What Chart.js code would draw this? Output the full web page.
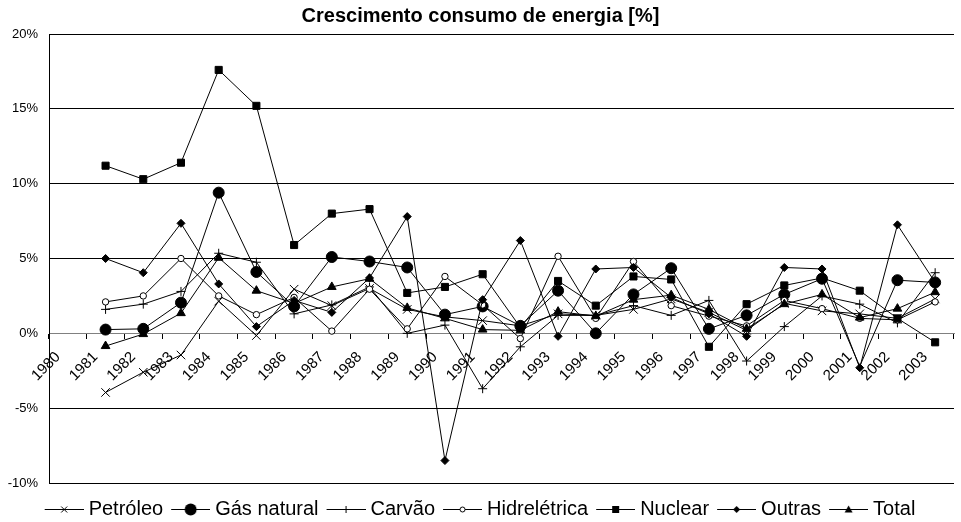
<!DOCTYPE html>
<html>
<head>
<meta charset="utf-8">
<script src="https://cdn.jsdelivr.net/npm/chart.js@4"></script>
<style>
  body { margin: 0; background: #fff; }
  #wrap { width: 961px; height: 522px; }
</style>
</head>
<body>
<div id="wrap"><canvas id="energiaChart" width="961" height="522"></canvas></div>
<script>
// anos e crescimento (%)
const anos = ['1980', '1981', '1982', '1983', '1984', '1985', '1986', '1987', '1988', '1989', '1990', '1991',
              '1992', '1993', '1994', '1995', '1996', '1997', '1998', '1999', '2000', '2001', '2002', '2003'];

const petroleo    = [null, -3.95, -2.6, -1.45, 2.15, -0.15, 2.95, 1.85, 3.0, 1.6, 1.1, 0.85, 0.5, 1.3, 1.2, 1.6, 2.3, 1.4, 0.2, 2.0, 1.5, 1.3, 1.0, 2.3];
const gasNatural  = [null, 0.25, 0.3, 2.05, 9.4, 4.1, 1.8, 5.1, 4.8, 4.4, 1.25, 1.8, 0.5, 2.85, 0.0, 2.6, 4.35, 0.3, 1.2, 2.6, 3.65, -2.2, 3.55, 3.4];
const carvao      = [null, 1.6, 1.95, 2.8, 5.35, 4.75, 1.3, 1.9, 3.1, 0.0, 0.55, -3.7, -0.9, 1.2, 1.2, 1.85, 1.2, 2.2, -1.85, 0.45, 2.5, 1.95, 0.7, 4.05];
const hidro       = [null, 2.1, 2.5, 5.0, 2.5, 1.25, 2.4, 0.15, 2.95, 0.3, 3.8, 1.9, -0.35, 5.15, 1.0, 4.8, 1.85, 1.15, 0.5, 2.2, 1.65, 1.0, 0.9, 2.1];
const nuclear     = [null, 11.2, 10.3, 11.4, 17.6, 15.2, 5.9, 8.0, 8.3, 2.7, 3.1, 3.95, 0.4, 3.5, 1.85, 3.8, 3.6, -0.9, 1.95, 3.2, 3.7, 2.85, 1.0, -0.6];
const outras      = [null, 5.0, 4.05, 7.35, 3.3, 0.45, 2.2, 1.4, 3.7, 7.8, -8.5, 2.25, 6.2, -0.2, 4.3, 4.4, 2.4, 1.3, -0.2, 4.4, 4.3, -2.3, 7.25, 3.4];
const total       = [null, -0.85, -0.05, 1.35, 5.05, 2.85, 2.0, 3.1, 3.65, 1.7, 1.0, 0.25, 0.2, 1.45, 1.15, 2.25, 2.55, 1.6, 0.3, 1.95, 2.6, 1.05, 1.65, 2.75];

const fonte = "'Liberation Sans', Arial, sans-serif";

// amostra de linha + marcador para a legenda
function amostraLegenda(tipo) {
  const c = document.createElement('canvas');
  c.width = 43; c.height = 20;
  const g = c.getContext('2d');
  g.strokeStyle = '#000';
  g.fillStyle = '#000';
  g.lineWidth = 1;
  g.beginPath(); g.moveTo(4, 10.5); g.lineTo(43, 10.5); g.stroke();
  const x = 23.5, y = 10.5;
  g.beginPath();
  if (tipo === 'x') {
    g.moveTo(x - 3, y - 3); g.lineTo(x + 3, y + 3);
    g.moveTo(x - 3, y + 3); g.lineTo(x + 3, y - 3);
    g.stroke();
  } else if (tipo === '+') {
    g.moveTo(x - 3.5, y); g.lineTo(x + 3.5, y);
    g.moveTo(x, y - 3.5); g.lineTo(x, y + 3.5);
    g.stroke();
  } else if (tipo === 'bola') {
    g.arc(x, y, 6, 0, Math.PI * 2); g.fill();
  } else if (tipo === 'circulo') {
    g.fillStyle = '#fff';
    g.arc(x, y, 2.5, 0, Math.PI * 2); g.fill(); g.stroke();
  } else if (tipo === 'quadrado') {
    g.fillRect(x - 3.5, y - 3.5, 7, 7);
  } else if (tipo === 'losango') {
    g.moveTo(x, y - 3.5); g.lineTo(x + 3.5, y); g.lineTo(x, y + 3.5); g.lineTo(x - 3.5, y);
    g.closePath(); g.fill();
  } else if (tipo === 'triangulo') {
    g.moveTo(x, y - 4); g.lineTo(x + 4, y + 3); g.lineTo(x - 4, y + 3);
    g.closePath(); g.fill();
  }
  return c;
}

function serie(nome, dados, estilo, raio, fundo, amostra, i) {
  return {
    label: nome,
    data: dados,
    order: 10 - i,          // como no Excel: séries seguintes por cima
    borderColor: '#000',
    borderWidth: 1,
    backgroundColor: fundo,
    pointStyle: estilo,
    pointRadius: raio,
    pointBorderColor: '#000',
    pointBackgroundColor: fundo,
    pointBorderWidth: 1,
    tension: 0,
    fill: false,
    amostra: amostraLegenda(amostra)
  };
}

// no original o marcador do gás em 2001 não aparece
const raioGas = anos.map(a => a === '2001' ? 0 : 5.5);

const datasets = [
  serie('Petróleo', petroleo, 'crossRot', 6, '#000', 'x', 0),
  serie('Gás natural', gasNatural, 'circle', raioGas, '#000', 'bola', 1),
  serie('Carvão', carvao, 'cross', 4.5, '#000', '+', 2),
  serie('Hidrelétrica', hidro, 'circle', 3.2, '#fff', 'circulo', 3),
  serie('Nuclear', nuclear, 'rect', 5, '#000', 'quadrado', 4),
  serie('Outras', outras, 'rectRot', 4, '#000', 'losango', 5),
  serie('Total', total, 'triangle', 5, '#000', 'triangulo', 6)
];

const ctx = document.getElementById('energiaChart').getContext('2d');

const energiaChart = new Chart(ctx, {
  type: 'line',
  data: { labels: anos, datasets: datasets },
  options: {
    responsive: false,
    animation: false,
    devicePixelRatio: 1,
    layout: { padding: { left: 0, right: 0, top: 0, bottom: -7 } },
    plugins: {
      tooltip: { enabled: false },
      title: {
        display: true,
        text: 'Crescimento consumo de energia [%]',
        color: '#000',
        font: { family: fonte, size: 20, weight: 'bold' },
        padding: { top: 4, bottom: 6 }
      },
      legend: {
        position: 'bottom',
        title: { display: true, text: '', font: { size: 1, lineHeight: 1 }, padding: { top: 6, bottom: 0 } },
        labels: {
          color: '#000',
          font: { family: fonte, size: 20 },
          usePointStyle: true,
          pointStyleWidth: 33,
          padding: 9,
          sort: (a, b) => a.datasetIndex - b.datasetIndex,
          generateLabels: chart => {
            const itens = Chart.defaults.plugins.legend.labels.generateLabels(chart);
            itens.forEach(it => { it.pointStyle = chart.data.datasets[it.datasetIndex].amostra; });
            return itens;
          }
        }
      }
    },
    scales: {
      x: {
        position: { y: 0 },
        offset: true,
        grid: {
          offset: true,
          drawOnChartArea: false,
          drawTicks: true,
          tickLength: 5,
          color: '#000'
        },
        border: { display: true, color: '#808080', width: 1 },
        ticks: {
          autoSkip: false,
          minRotation: 45,
          maxRotation: 45,
          padding: 10,
          labelOffset: -10,
          color: '#000',
          font: { family: fonte, size: 15 }
        }
      },
      y: {
        min: -10,
        max: 20,
        afterFit: s => { s.width = 49; },
        grid: {
          drawTicks: false,
          color: c => (c.tick && c.tick.value === 0) ? '#808080' : '#000',
          lineWidth: 1
        },
        border: { display: true, color: '#000', width: 1 },
        ticks: {
          stepSize: 5,
          padding: 11,
          color: '#000',
          font: { family: fonte, size: 13 },
          callback: v => v + '%'
        }
      }
    }
  }
});
</script>
</body>
</html>
